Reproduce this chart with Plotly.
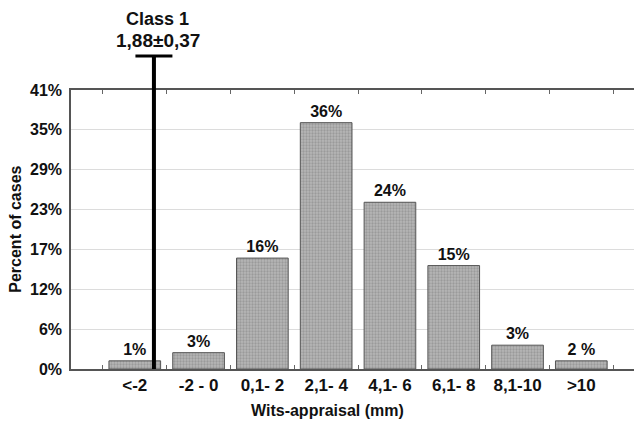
import plotly.graph_objects as go

categories = ["<-2", "-2 - 0", "0,1- 2", "2,1- 4", "4,1- 6", "6,1- 8", "8,1-10", ">10"]
values = [1.2, 2.4, 16.3, 36.2, 24.5, 15.2, 3.5, 1.2]
bar_labels = ["1%", "3%", "16%", "36%", "24%", "15%", "3%", "2 %"]
ytick_vals = [0, 41/7, 2*41/7, 3*41/7, 4*41/7, 5*41/7, 6*41/7, 41]
ytick_text = ["0%", "6%", "12%", "17%", "23%", "29%", "35%", "41%"]
mean_pos = 0.30  # position of the Class 1 mean marker on the category axis

FONT = "Liberation Sans, Arial, sans-serif"

fig = go.Figure()
fig.add_trace(go.Bar(
    x=categories, y=values, text=bar_labels, textposition="outside",
    textfont=dict(family=FONT, size=16, color="#111", weight="bold"),
    marker=dict(color="#aaaaaa", line=dict(color="#555", width=1),
                pattern=dict(shape=".", fgcolor="#7e7e7e", bgcolor="#b6b6b6", size=3, solidity=0.45)),
    cliponaxis=False,
))

fig.add_shape(type="line", xref="x", yref="paper", x0=mean_pos, x1=mean_pos, y0=0, y1=1.122,
              line=dict(color="black", width=4))
fig.add_shape(type="line", xref="x", yref="paper", x0=mean_pos - 0.29, x1=mean_pos + 0.29, y0=1.122, y1=1.122,
              line=dict(color="black", width=3))
fig.add_annotation(xref="x", yref="paper", x=mean_pos + 0.06, y=1.256, yanchor="middle",
                   text="<b>Class 1</b>", showarrow=False,
                   font=dict(family=FONT, size=18, color="#111"))
fig.add_annotation(xref="x", yref="paper", x=mean_pos + 0.06, y=1.176, yanchor="middle",
                   text="<b>1,88±0,37</b>", showarrow=False,
                   font=dict(family=FONT, size=19, color="#111"))
fig.add_annotation(xref="paper", yref="paper", x=0.45, y=-0.147, yanchor="middle",
                   text="<b>Wits-appraisal (mm)</b>", showarrow=False,
                   font=dict(family=FONT, size=16, color="#111"))
fig.add_annotation(xref="paper", yref="paper", x=-0.098, y=0.5, xanchor="center", yanchor="middle",
                   textangle=-90, text="<b>Percent of cases</b>", showarrow=False,
                   font=dict(family=FONT, size=16, color="#111"))

fig.update_layout(
    width=634, height=415,
    margin=dict(l=63, r=2, t=82, b=54),
    paper_bgcolor="white", plot_bgcolor="white",
    bargap=0.19, showlegend=False,
    font=dict(family=FONT, color="#111"),
)
fig.update_xaxes(
    type="category", range=[-1, 7.92], tickson="boundaries", ticks="inside", ticklen=4,
    tickcolor="#666", showline=True, linecolor="#555", linewidth=1.5, mirror="ticks",
    showgrid=False, tickfont=dict(family=FONT, size=17, color="#111", weight="bold"),
)
fig.update_yaxes(
    range=[0, 41], tickvals=ytick_vals, ticktext=ytick_text, ticks="",
    showline=True, linecolor="#555", linewidth=1.5, showgrid=True, gridcolor="#dcdcdc",
    zeroline=False, tickfont=dict(family=FONT, size=16, color="#111", weight="bold"),
    ticklabelstandoff=4,
)

fig.write_html("out.html")
